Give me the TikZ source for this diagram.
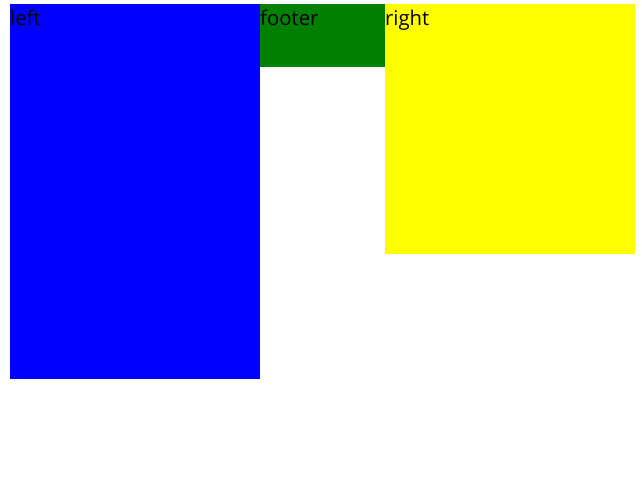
\documentclass[tikz,border=0pt]{standalone}
\usepackage{fontspec}
\setmainfont{Open Sans}
\definecolor{LeftClr}{RGB}{0,0,255}
\definecolor{FooterClr}{RGB}{0,128,0}
\definecolor{RightClr}{RGB}{255,255,0}
\begin{document}
\begin{tikzpicture}[x=1pt,y=-1pt,
  lbl/.style={anchor=base west,inner sep=0pt,font=\fontsize{20.3}{23}\selectfont,text=black}]
\useasboundingbox (0,0) rectangle (642,479);

\fill[LeftClr] (10,4) rectangle (260,379);
\fill[FooterClr] (260,4) rectangle (385,67);
\fill[RightClr] (385,4) rectangle (635,254);

\coordinate (L) at (10,25);
\coordinate (F) at (260,25);
\coordinate (R) at (385,25);

\node[lbl] (left) at (L) {left};
\node[lbl] (footer) at (F) {footer};
\node[lbl] (right) at (R) {right};

\end{tikzpicture}
\end{document}
